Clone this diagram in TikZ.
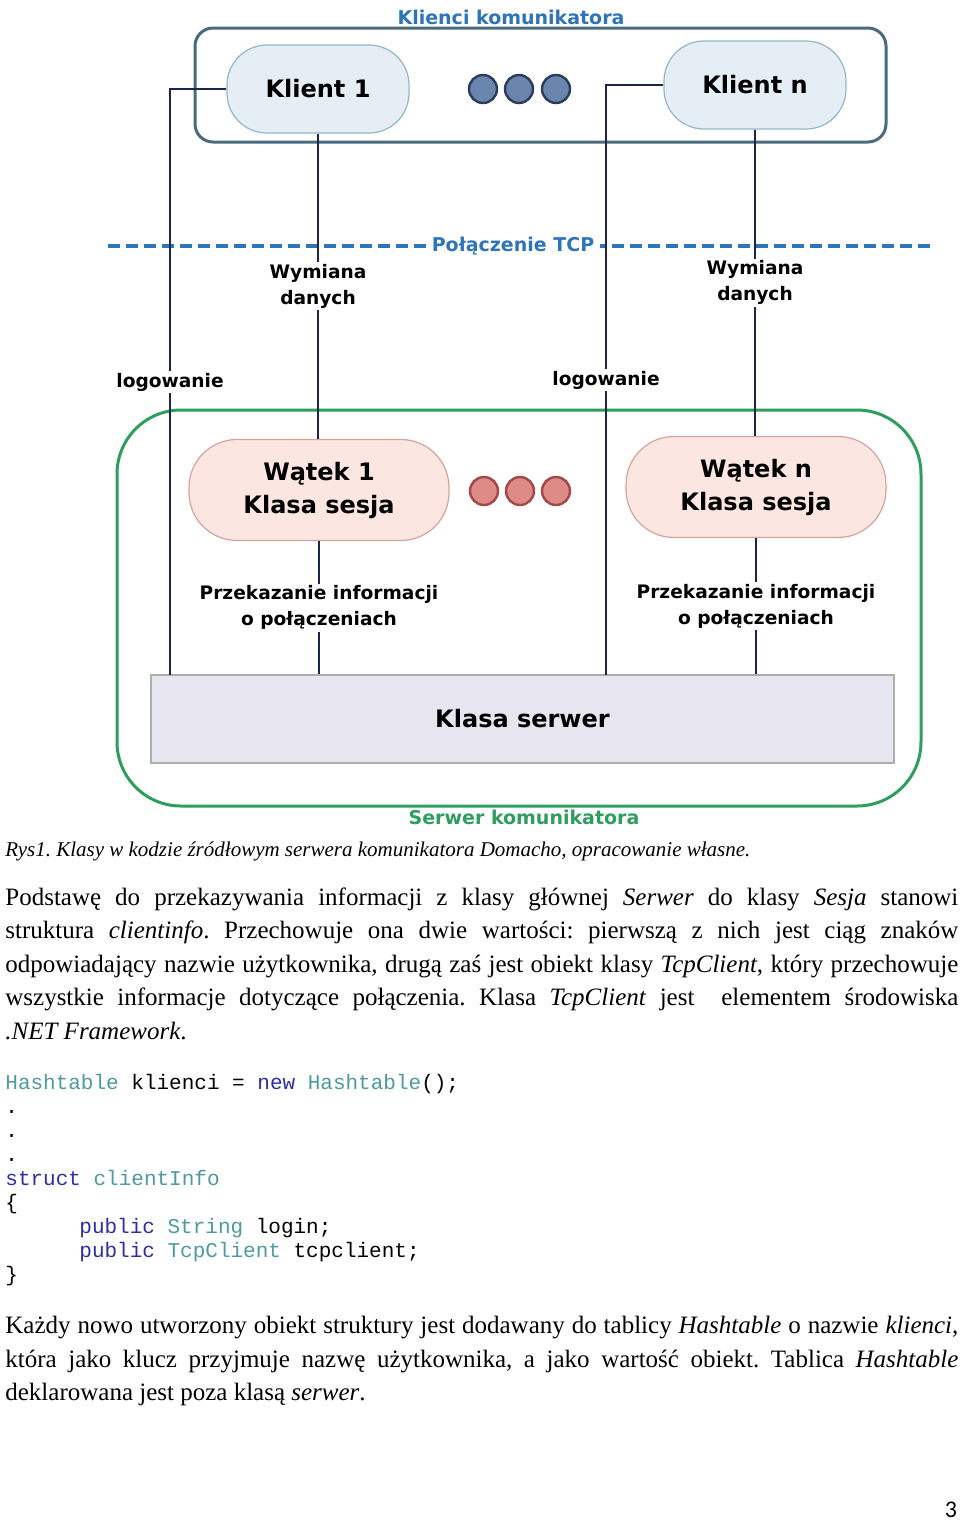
\documentclass[tikz,border=0pt]{standalone}
\usepackage{fontspec}
\setmainfont{Liberation Serif}
\newfontfamily\diagfont{DejaVu Sans}
\newfontfamily\codefont{Liberation Mono}
\newfontfamily\pagefont{Carlito}
\definecolor{niebieski}{HTML}{2E74B8}
\definecolor{ramka}{HTML}{4A6A7E}
\definecolor{zielony}{HTML}{2E9E5E}
\definecolor{linia}{HTML}{1B2550}
\definecolor{klientfill}{HTML}{E6EEF5}
\definecolor{klientline}{HTML}{93B6CA}
\definecolor{kropkafill}{HTML}{6A86AD}
\definecolor{kropkaline}{HTML}{2B3D5A}
\definecolor{watekfill}{HTML}{FBE6E2}
\definecolor{watekline}{HTML}{D6A39B}
\definecolor{rozfill}{HTML}{DE8A86}
\definecolor{rozline}{HTML}{A24848}
\definecolor{serwerfill}{HTML}{E7E5F0}
\definecolor{serwerline}{HTML}{A9AEB0}
\definecolor{typ}{HTML}{4E9A9E}
\definecolor{slowo}{HTML}{2E2EA6}
\hyphenpenalty=10000
\exhyphenpenalty=10000
\frenchspacing

\begin{document}
\begin{tikzpicture}[x=0.5pt, y=-0.5pt,
  klient/.style={draw=klientline, fill=klientfill, line width=0.6pt, rounded corners=20pt,
    minimum width=91pt, minimum height=44pt, font=\diagfont\bfseries\fontsize{12}{16}\selectfont},
  watek/.style={draw=watekline, fill=watekfill, line width=0.6pt, rounded corners=24pt,
    minimum width=130pt, minimum height=50.5pt, align=center, font=\diagfont\bfseries\fontsize{12}{16.5}\selectfont},
  kropka/.style={circle, line width=1.2pt, minimum size=14pt, inner sep=0pt},
  link/.style={draw=linia, line width=1pt},
  opis/.style={fill=white, inner sep=1pt, align=center, font=\diagfont\bfseries\fontsize{9.3}{13}\selectfont},
  tytul/.style={inner sep=1pt, font=\diagfont\bfseries\fontsize{9.5}{12}\selectfont},
  tekst/.style={anchor=north west, inner sep=0pt, text width=476.5pt, align=justify,
    font=\fontsize{12.5}{16.75}\selectfont}
]
\useasboundingbox[fill=white] (0,0) rectangle (960,1523);

% ramki: klienci i serwer
\draw[ramka, line width=1.5pt, rounded corners=9pt] (195,28) rectangle (886,142);
\draw[zielony, line width=1.5pt, rounded corners=32pt] (117,410) rectangle (921,806);
\node[tytul, text=niebieski] (klienci) at (511,17) {Klienci komunikatora};
\node[tytul, text=zielony] (serwer) at (524,817) {Serwer komunikatora};

% polaczenie TCP
\coordinate (tcpL) at (108,246);
\coordinate (tcpR) at (932,246);
\draw[niebieski, line width=2pt, dash pattern=on 6pt off 3pt] (tcpL) -- (tcpR);
\node[tytul, fill=white, inner sep=3pt, text=niebieski] (tcp) at (513,246) {Połączenie TCP};

% wezly
\node[klient] (k1) at (318,89) {Klient 1};
\node[klient] (kn) at (755,85) {Klient n};
\node[watek] (w1) at (319,490) {Wątek 1\\Klasa sesja};
\node[watek] (wn) at (756,487) {Wątek n\\Klasa sesja};
\node[draw=serwerline, fill=serwerfill, line width=0.6pt, minimum width=371.5pt, minimum height=44pt,
  font=\diagfont\bfseries\fontsize{12}{16}\selectfont] (srv) at (522.5,719) {Klasa serwer};

\foreach \x [count=\i] in {483,519,556}
  \node[kropka, draw=kropkaline, fill=kropkafill] (kb\i) at (\x,89) {};
\foreach \x [count=\i] in {484,520,556}
  \node[kropka, draw=rozline, fill=rozfill] (kc\i) at (\x,491) {};

% polaczenia
\coordinate (log1) at (170,675);
\coordinate (logn) at (606,675);
\draw[link] (k1.west) -| (log1) node[opis, pos=0.75] {logowanie};
\draw[link] (kn.west) -| (logn) node[opis, pos=0.75] {logowanie};
\draw[link] (k1.south) -- (k1.south |- w1.north) node[opis, midway] {Wymiana\\danych};
\draw[link] (kn.south) -- (kn.south |- wn.north) node[opis, midway] {Wymiana\\danych};
\draw[link] (w1.south) -- (w1.south |- srv.north) node[opis, midway] {Przekazanie informacji\\o połączeniach};
\draw[link] (wn.south) -- (wn.south |- srv.north) node[opis, midway] {Przekazanie informacji\\o połączeniach};

% tekst strony
\node[anchor=base west, inner sep=0pt, font=\itshape\fontsize{10.5}{13}\selectfont] (podpis) at (5,856)
  {Rys1. Klasy w kodzie źródłowym serwera komunikatora Domacho, opracowanie własne.};
\node[tekst] (akapit1) at (5,887) {Podstawę do przekazywania informacji z klasy głównej \emph{Serwer} do klasy \emph{Sesja} stanowi\linebreak
  struktura \emph{clientinfo}. Przechowuje ona dwie wartości: pierwszą z nich jest ciąg znaków\linebreak
  odpowiadający nazwie użytkownika, drugą zaś jest obiekt klasy \emph{TcpClient}, który przechowuje\linebreak
  wszystkie informacje dotyczące połączenia. Klasa \emph{TcpClient} jest \ elementem środowiska\linebreak
  \emph{.NET Framework}.};
\node[anchor=north west, inner sep=0pt, align=left, font=\codefont\fontsize{10.5}{12}\selectfont] (kod) at (5,1074)
  {\textcolor{typ}{Hashtable} klienci = \textcolor{slowo}{new} \textcolor{typ}{Hashtable}();\\
  .\\ .\\ .\\
  \textcolor{slowo}{struct} \textcolor{typ}{clientInfo}\\
  \{\\
  \hspace*{37pt}\textcolor{slowo}{public} \textcolor{typ}{String} login;\\
  \hspace*{37pt}\textcolor{slowo}{public} \textcolor{typ}{TcpClient} tcpclient;\\
  \}};
\node[tekst] (akapit2) at (5,1316) {Każdy nowo utworzony obiekt struktury jest dodawany do tablicy \emph{Hashtable} o nazwie \emph{klienci},\linebreak
  która jako klucz przyjmuje nazwę użytkownika, a jako wartość obiekt. Tablica \emph{Hashtable}\linebreak
  deklarowana jest poza klasą \emph{serwer}.};
\node[inner sep=0pt, font=\pagefont\fontsize{12}{14}\selectfont] (strona) at (951,1510) {3};
\end{tikzpicture}
\end{document}
